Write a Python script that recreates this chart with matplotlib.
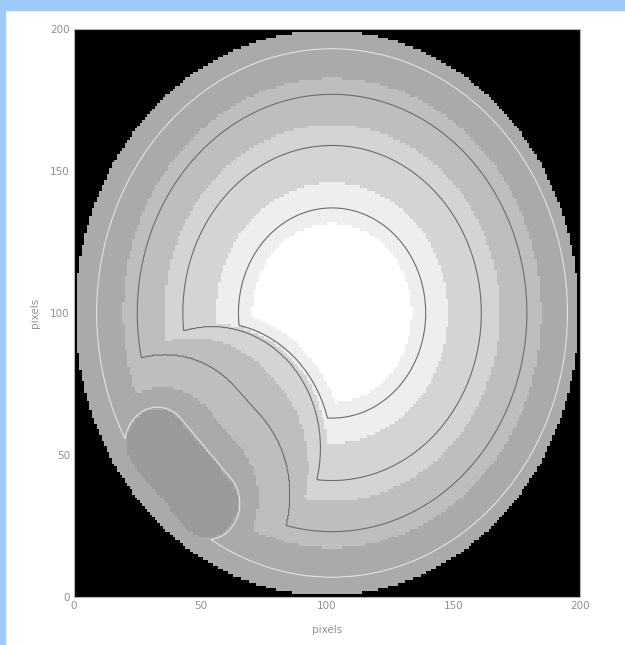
import numpy as np
import matplotlib.pyplot as plt
from matplotlib.patches import Rectangle

N = 200

# circular aperture of the detector (pixels)
APERTURE_CENTER = (100.0, 100.0)
APERTURE_RADIUS = 99.5

# main bright spot: level value vs. radius from its centre
MAIN_CENTER = (102.0, 100.0)
MAIN_R = [0.0, 37.0, 59.0, 77.0, 93.0, 110.0]
MAIN_T = [5.7, 4.0, 3.0, 2.0, 1.0, 0.4]

# lower-left lobe: excluded stadium (segment ends + radius) for each level
LOBE_T = [0.0, 0.6, 1.0, 1.65, 2.0, 3.0, 4.0, 5.0]
LOBE_P1 = [(33.0, 54.0), (33.0, 54.0), (33.0, 54.0), (35.0, 49.0), (36.0, 46.0),
           (54.7, 52.5), (55.9, 50.5), (57.0, 49.0)]
LOBE_P2 = [(52.7, 33.0), (52.7, 33.0), (52.7, 33.0), (48.0, 35.0), (46.0, 36.0),
           (54.7, 52.5), (55.9, 50.5), (57.0, 49.0)]
LOBE_RHO = [0.0, 12.3, 12.75, 25.0, 39.5, 42.8, 46.0, 65.0]

# filled bands and contour lines
FILL_BOUNDS = [-1.0, 0.6, 1.65, 2.6, 3.6, 4.25, 10.0]
FILL_GRAYS = [154, 170, 190, 212, 238, 255]
LINE_LEVELS = [1.0, 2.0, 3.0, 4.0]
LINE_COLORS = ["#e2e2e2", "#6c6c6c", "#6c6c6c", "#6c6c6c"]


def seg_dist(px, py, a, b):
    dx, dy = b[0] - a[0], b[1] - a[1]
    l2 = dx * dx + dy * dy
    if l2 < 1e-9:
        return np.hypot(px - a[0], py - a[1])
    s = np.clip(((px - a[0]) * dx + (py - a[1]) * dy) / l2, 0.0, 1.0)
    return np.hypot(px - a[0] - s * dx, py - a[1] - s * dy)


def field(n):
    c = (np.arange(n) + 0.5) * (N / n)
    px, py = np.meshgrid(c, c)

    r1 = np.hypot(px - MAIN_CENTER[0], py - MAIN_CENTER[1])
    f1 = np.interp(r1, MAIN_R, MAIN_T)

    p1 = np.array(LOBE_P1)
    p2 = np.array(LOBE_P2)
    f2 = np.full(px.shape, LOBE_T[-1])
    for t in np.linspace(LOBE_T[0], LOBE_T[-1], 501)[::-1]:
        a = (np.interp(t, LOBE_T, p1[:, 0]), np.interp(t, LOBE_T, p1[:, 1]))
        b = (np.interp(t, LOBE_T, p2[:, 0]), np.interp(t, LOBE_T, p2[:, 1]))
        rho = np.interp(t, LOBE_T, LOBE_RHO)
        f2[seg_dist(px, py, a, b) <= rho] = t

    f = np.minimum(f1, f2)
    outside = np.hypot(px - APERTURE_CENTER[0], py - APERTURE_CENTER[1]) > APERTURE_RADIUS
    return px, py, f, outside


# coarse image, as recorded
_, _, img_f, img_out = field(N)
band = np.digitize(img_f, FILL_BOUNDS[1:-1])
gray = np.array(FILL_GRAYS)[band] / 255.0
gray[img_out] = 0.0
rgb = np.dstack([gray, gray, gray])

# finer grid for smooth contour lines
cx, cy, cf, cout = field(600)
cf = np.ma.masked_where(cout, cf)

fig = plt.figure(figsize=(6.25, 6.45), dpi=100)
fig.patches.append(Rectangle((0, 1 - 10 / 645), 1, 10 / 645, transform=fig.transFigure,
                             color="#9ccbf8", zorder=0))
fig.patches.append(Rectangle((0, 0), 5 / 625, 1, transform=fig.transFigure,
                             color="#9ccbf8", zorder=0))

ax = fig.add_axes([74 / 625, 1 - 597 / 645, 506 / 625, 568 / 645])
ax.imshow(rgb, origin="lower", extent=[0, N, 0, N], interpolation="nearest", aspect="auto")
ax.contour(cx, cy, cf, levels=LINE_LEVELS, colors=LINE_COLORS, linewidths=0.8)

ax.set_xlim(0, N)
ax.set_ylim(0, N)
ticks = [0, 50, 100, 150, 200]
ax.set_xticks(ticks)
ax.set_yticks(ticks)
ax.tick_params(length=0, labelsize=7.5, labelcolor="#909090", pad=3)
ax.set_xlabel("pixels", fontsize=7.5, color="#909090", labelpad=10)
ax.set_ylabel("pixels", fontsize=7.5, color="#909090", labelpad=7)
for sp in ax.spines.values():
    sp.set_color("#b4b4b4")
    sp.set_linewidth(0.8)

fig.savefig("out.png", dpi=100)
